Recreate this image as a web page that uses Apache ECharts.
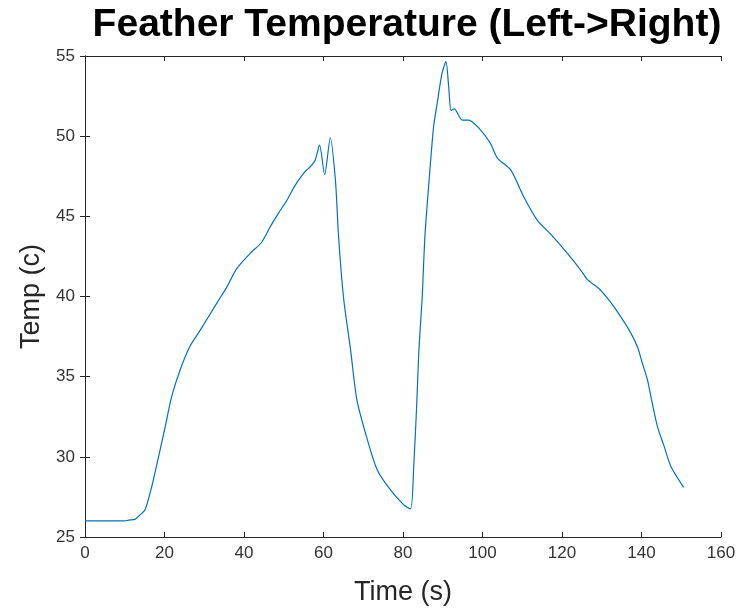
<!DOCTYPE html>
<html>
<head>
<meta charset="utf-8">
<script src="https://cdn.jsdelivr.net/npm/echarts@6/dist/echarts.min.js"></script>
<style>html,body{margin:0;padding:0;background:#fff}#c{width:743px;height:611px}</style>
</head>
<body>
<div id="c"></div>
<script>
const titleText = 'Feather Temperature (Left->Right)';
const xName = 'Time (s)';
const yName = 'Temp (c)';
const timeS = [0,5,10,11,12.6,13.5,15.1,16.8,18.5,20.2,21.8,23.9,26.4,29.0,33.2,35.7,38.2,41.6,44.5,46.6,48.7,50.8,52.9,55.4,56.7,57.9,59.0,60.3,61.7,63.0,63.8,65.1,66.8,68.4,71.0,73.5,76.8,80.2,81.9,82.7,83.5,84.0,84.8,85.5,86.5,87.7,88.6,89.8,90.8,91.5,92.1,92.9,94.9,96.5,99.1,102.0,103.7,107.1,110.4,113.8,117.1,121.3,124.7,126.4,129.3,131.4,133.1,136.9,139.0,140.2,141.5,142.7,144.0,145.7,147.4,150.6];
const tempC = [26.0,26.0,26.0,26.05,26.1,26.3,26.7,28.15,30.0,31.9,33.75,35.4,36.9,37.9,39.6,40.6,41.75,42.7,43.4,44.35,45.2,46.0,46.95,47.8,48.1,48.5,49.45,47.6,49.9,47.25,43.7,39.8,36.7,33.55,31.1,29.2,27.95,27.0,26.75,29.4,33.55,36.7,39.8,43.7,47.05,50.6,52.05,53.9,54.65,53.05,51.6,51.7,51.0,51.0,50.5,49.55,48.65,47.9,46.2,44.75,43.9,42.7,41.65,41.05,40.5,39.9,39.35,37.9,36.85,35.85,34.8,33.35,31.9,30.65,29.4,28.1];
const xTicks = [0,20,40,60,80,100,120,140,160];
const yTicks = [25,30,35,40,45,50,55];

const FONT = 'Liberation Sans, Arial, sans-serif';
const chart = echarts.init(document.getElementById('c'), null, {renderer:'canvas'});
const axisLine = {show:true, lineStyle:{color:'#262626', width:1}};
const tick = {show:true, inside:true, length:5, lineStyle:{color:'#262626'}};
const lbl = {color:'#333333', fontSize:17, fontFamily:FONT};
chart.setOption({
  animation:false,
  backgroundColor:'#fff',
  title:{text:titleText, left:402, textAlign:'center', top:1,
    textStyle:{fontSize:39, fontWeight:'bold', color:'#000', fontFamily:FONT}},
  grid:{left:85, right:22, top:56, bottom:74},
  xAxis:[
    {type:'value', min:xTicks[0], max:xTicks[xTicks.length-1], interval:20, position:'bottom',
     name:xName, nameLocation:'middle', nameGap:42,
     nameTextStyle:{fontSize:27, color:'#262626', fontFamily:FONT},
     axisLine, axisTick:tick, axisLabel:Object.assign({margin:8}, lbl), splitLine:{show:false}},
    {type:'value', min:xTicks[0], max:xTicks[xTicks.length-1], interval:20, position:'top',
     axisLine, axisTick:tick, axisLabel:{show:false}, splitLine:{show:false}}
  ],
  yAxis:[
    {type:'value', min:yTicks[0], max:yTicks[yTicks.length-1], interval:5, position:'left',
     name:yName, nameLocation:'middle', nameGap:34,
     nameTextStyle:{fontSize:27, color:'#262626', fontFamily:FONT},
     axisLine, axisTick:tick, axisLabel:Object.assign({margin:10}, lbl), splitLine:{show:false}},
    {type:'value', min:yTicks[0], max:yTicks[yTicks.length-1], interval:5, position:'right',
     axisLine, axisTick:tick, axisLabel:{show:false}, splitLine:{show:false}}
  ],
  series:[{
    type:'line', xAxisIndex:0, yAxisIndex:0, showSymbol:false, smooth:0.25,
    lineStyle:{color:'#0072BD', width:1.2},
    data: timeS.map((t,i)=>[t,tempC[i]])
  }]
});
</script>
</body>
</html>
